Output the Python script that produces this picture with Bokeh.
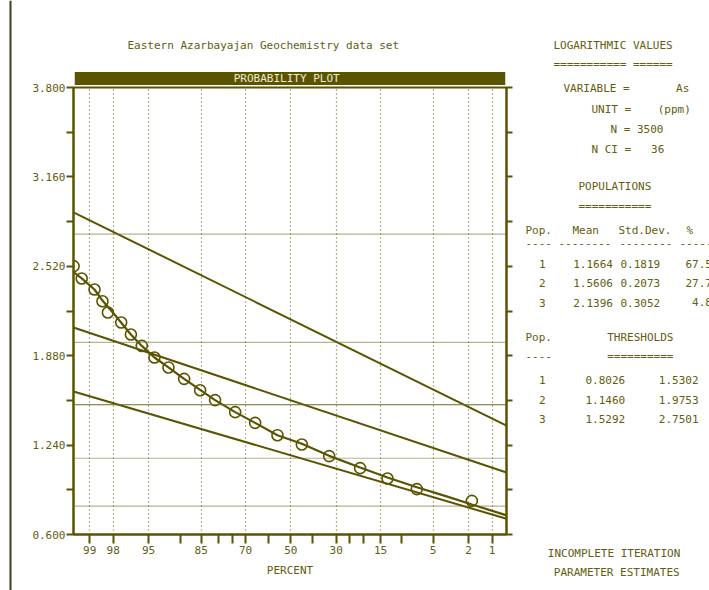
from statistics import NormalDist
from bokeh.plotting import figure
from bokeh.layouts import row, column
from bokeh.core.properties import value
from bokeh.models import (Range1d, FixedTicker, LinearAxis, Span, Title,
                          PrintfTickFormatter, CustomJSTickFormatter)
from bokeh.embed import file_html
from bokeh.resources import INLINE

# ---------------- data ----------------
pct_ticks = [99, 98, 95, 85, 70, 50, 30, 15, 5, 2, 1]
pct_minor = [90, 80, 75, 60, 40, 25, 20, 10]
y_ticks = [0.6, 1.24, 1.88, 2.52, 3.16, 3.8]
y_minor = [0.92, 1.56, 2.2, 2.84, 3.48]

pop_ids = [1, 2, 3]
pop_mean = [1.1664, 1.5606, 2.1396]
pop_sd = [0.1819, 0.2073, 0.3052]
pop_pct = [67.5, 27.7, 4.8]
thr_low = [0.8026, 1.1460, 1.5292]
thr_high = [1.5302, 1.9753, 2.7501]

data_pct = [99.40, 99.22, 98.84, 98.53, 98.28, 97.51, 96.78, 95.76, 94.26, 92.15,
            89.14, 85.29, 80.95, 74.02, 66.02, 56.16, 44.95, 32.89, 21.16, 13.20,
            7.26, 1.82]
data_val = [2.521, 2.433, 2.354, 2.270, 2.189, 2.118, 2.032, 1.950, 1.867, 1.796,
            1.714, 1.633, 1.562, 1.476, 1.399, 1.311, 1.244, 1.161, 1.075, 1.001,
            0.925, 0.841]

curve_pct = [99.40, 99.22, 98.84, 98.53, 97.89, 96.78, 95.76, 94.26, 92.15, 89.14,
             85.29, 80.95, 74.02, 66.02, 56.16, 44.95, 32.89, 21.16, 13.20, 7.26,
             3.59, 1.82, 0.63]
curve_val = [2.478, 2.433, 2.354, 2.275, 2.170, 2.032, 1.950, 1.867, 1.796, 1.714,
             1.635, 1.562, 1.476, 1.399, 1.311, 1.250, 1.163, 1.080, 1.008, 0.938,
             0.873, 0.815, 0.737]

title_text = "Eastern Azarbayajan Geochemistry data set"
bar_text = "PROBABILITY PLOT"
variable = "As"
unit = "(ppm)"
n_obs = 3500
n_ci = 36

# ---------------- helpers ----------------
ND = NormalDist()


def zpos(pc):
    """probability-scale position of a 'percent greater than' value"""
    return ND.inv_cdf(1.0 - pc / 100.0)


H = 590
STRIP_W, MID_W, RIGHT_W = 12, 501, 196
TOP_H = 65
BL, BR = 73 - STRIP_W, 7          # side borders of the middle column
FX0, FX1 = 73, STRIP_W + MID_W - BR  # frame edges in page pixels
OLIVE = "#5a5400"
TEXT = "#625d10"
DOT = "#6c6822"
FONT = "DejaVu Sans Mono"
FS = "11px"
NB = "\u00a0"


def blank_fig(w, h, x0, x1, y0, y1, bl=0, br=0):
    f = figure(width=w, height=h, output_backend="svg", toolbar_location=None,
               title=None, x_range=Range1d(x0, x1), y_range=Range1d(y1, y0),
               x_axis_type=None, y_axis_type=None,
               min_border_left=bl, min_border_right=br, min_border_top=0,
               min_border_bottom=0)
    f.outline_line_color = None
    f.background_fill_color = "white"
    f.border_fill_color = "white"
    f.xgrid.visible = False
    f.ygrid.visible = False
    return f


def put(f, items, align="left", color=TEXT):
    f.text(x=[it[1] for it in items], y=[it[2] for it in items],
           text=[it[0].replace(" ", NB) for it in items],
           text_align=value(align), text_baseline=value("middle"),
           text_font=value(FONT), text_font_size=value(FS),
           text_color=value(color))


# ---------------- left strip (page border) ----------------
strip = blank_fig(STRIP_W, H, 0, STRIP_W, 0, H)
strip.add_layout(Span(location=10, dimension="height", line_color="#3f3c22",
                      line_width=2))

# ---------------- top area (frame aligned with the plot frame) ----------------
top = blank_fig(MID_W, TOP_H, FX0, FX1, 0, TOP_H, bl=BL, br=BR)
put(top, [(title_text, 127, 45)])

# ---------------- probability plot ----------------
p = figure(width=MID_W, height=H - TOP_H, output_backend="svg",
           toolbar_location=None, title=None,
           x_range=Range1d(-2.513, 2.493), y_range=Range1d(0.6, 3.8),
           min_border_left=BL, min_border_right=BR, min_border_top=87 - TOP_H,
           min_border_bottom=56, x_axis_label="PERCENT")
p.background_fill_color = "white"
p.border_fill_color = "white"
p.outline_line_color = OLIVE
p.outline_line_width = 2

# dark title bar directly above the frame
pad = NB * 24
p.add_layout(Title(text=pad + bar_text + pad + NB, align="center",
                   vertical_align="top", standoff=1, text_font=FONT,
                   text_font_size=FS, text_font_style="normal",
                   text_color="#efebd0", background_fill_color=OLIVE),
             "above")

xt = [zpos(v) for v in pct_ticks]
xm = [zpos(v) for v in pct_minor]
p.xaxis.ticker = FixedTicker(ticks=xt, minor_ticks=xm)
p.xaxis.formatter = CustomJSTickFormatter(
    args=dict(pos=xt, labs=[str(v) for v in pct_ticks]),
    code="""
let best = 0, d = 1e9;
for (let i = 0; i < pos.length; i++) {
  const e = Math.abs(pos[i] - tick);
  if (e < d) { d = e; best = i; }
}
return labs[best];
""")
p.yaxis.ticker = FixedTicker(ticks=y_ticks, minor_ticks=y_minor)
p.yaxis.formatter = PrintfTickFormatter(format="%.3f")

ra = LinearAxis(ticker=FixedTicker(ticks=y_ticks, minor_ticks=y_minor),
                formatter=CustomJSTickFormatter(code="return '';"))
p.add_layout(ra, "right")

for ax in (p.xaxis[0], p.yaxis[0], ra):
    ax.axis_line_color = OLIVE
    ax.axis_line_width = 2
    ax.major_tick_line_color = OLIVE
    ax.major_tick_line_width = 2
    ax.minor_tick_line_color = OLIVE
    ax.minor_tick_line_width = 2
    ax.major_tick_in = 0
    ax.minor_tick_in = 0
    ax.major_label_text_font = FONT
    ax.major_label_text_font_size = FS
    ax.major_label_text_color = TEXT
    ax.axis_label_text_font = FONT
    ax.axis_label_text_font_size = FS
    ax.axis_label_text_font_style = "normal"
    ax.axis_label_text_color = TEXT

p.yaxis.major_tick_out = 7
p.yaxis.minor_tick_out = 7
p.yaxis.major_label_standoff = 1
ra.major_tick_out = 6
ra.minor_tick_out = 6
ra.major_label_standoff = 0
p.xaxis.major_tick_out = 9
p.xaxis.minor_tick_out = 9
p.xaxis.major_label_standoff = 2
p.xaxis.axis_label_standoff = 7

p.xgrid.ticker = FixedTicker(ticks=xt)
p.xgrid.grid_line_color = DOT
p.xgrid.grid_line_dash = "1 3"
p.xgrid.grid_line_width = 1.2
p.ygrid.grid_line_color = None

for v in thr_low:
    p.add_layout(Span(location=v, dimension="width", line_color=DOT,
                      line_dash="1 1", line_width=1.2))
for v in thr_high:
    p.add_layout(Span(location=v, dimension="width", line_color=DOT,
                      line_dash="1 1", line_dash_offset=1, line_width=1.2))

x0, x1 = p.x_range.start, p.x_range.end
for m, s in zip(pop_mean, pop_sd):
    p.line([x0, x1], [m - x0 * s, m - x1 * s], line_color=OLIVE, line_width=2)

p.line(x=[zpos(v) for v in curve_pct], y=curve_val, line_color=OLIVE,
       line_width=2.2)
p.scatter([zpos(v) for v in data_pct], data_val, marker="circle", size=11,
          fill_color=None, line_color=OLIVE, line_width=1.6)

# ---------------- right text panel ----------------
rx = STRIP_W + MID_W
rp = blank_fig(RIGHT_W, H, rx, rx + RIGHT_W, 0, H)

left_items = [
    ("LOGARITHMIC VALUES", 553, 45),
    ("=========== ======", 553, 64),
    ("VARIABLE =       " + variable, 563, 88),
    ("UNIT =    " + unit, 591, 109),
    ("N = %d" % n_obs, 610, 129),
    ("N CI =   %d" % n_ci, 591, 149),
    ("POPULATIONS", 578, 186),
    ("===========", 578, 206),
    ("Pop.", 525, 230), ("Mean", 572, 230), ("Std.Dev.", 618, 230),
    ("%", 686, 230),
    ("----", 525, 242), ("--------", 558, 242), ("--------", 619, 242),
    ("-----", 679, 242),
    ("Pop.", 525, 336.7), ("THRESHOLDS", 606.7, 336.7),
    ("----", 525, 355.7), ("==========", 606.7, 355.7),
    ("INCOMPLETE ITERATION", 547.3, 552.7),
    ("PARAMETER ESTIMATES", 553.3, 571.7),
]
center_items = []
pop_rows = [263.3, 282.7, 302.3]
thr_rows = [379.3, 399, 418.3]
for i in range(3):
    center_items.append((str(pop_ids[i]), 541.7, pop_rows[i]))
    left_items.append(("%.4f" % pop_mean[i], 572.7, pop_rows[i]))
    left_items.append(("%.4f" % pop_sd[i], 620, pop_rows[i]))
    left_items.append(("%4.1f" % pop_pct[i], 685, pop_rows[i]))
    center_items.append((str(pop_ids[i]), 541.7, thr_rows[i]))
    left_items.append(("%.4f" % thr_low[i], 585, thr_rows[i]))
    left_items.append(("%.4f" % thr_high[i], 658.3, thr_rows[i]))
put(rp, left_items, "left")
put(rp, center_items, "center")

layout = row(strip, column(top, p, spacing=0), rp, spacing=0)
open("out.html", "w").write(file_html(layout, INLINE))
